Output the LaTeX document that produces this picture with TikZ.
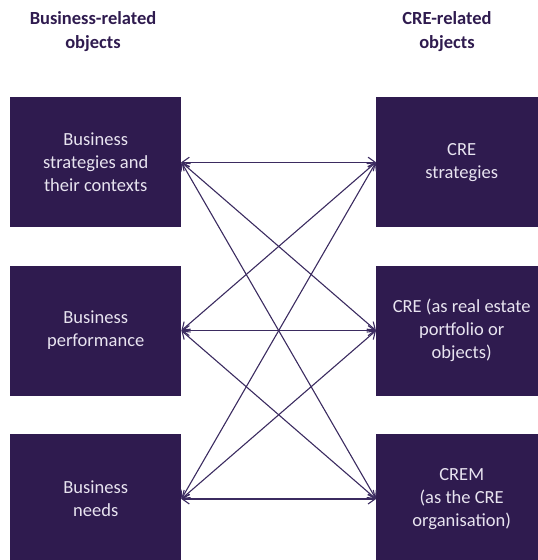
\documentclass[tikz,border=0pt]{standalone}
\usepackage{fontspec}
\setmainfont{Carlito}
\usetikzlibrary{positioning,arrows.meta}

\definecolor{crepurple}{HTML}{2F1B4F}
\definecolor{boxtext}{HTML}{E8E4F0}
\definecolor{linkpurple}{HTML}{3B2B60}

\begin{document}
\begin{tikzpicture}[x=1pt,y=1pt,
  objbox/.style={fill=crepurple,text=boxtext,minimum width=171pt,minimum height=130pt,
    inner sep=0pt,align=center,font=\fontsize{18.5}{23}\selectfont},
  heading/.style={text=crepurple,align=center,font=\bfseries\fontsize{18.5}{24}\selectfont},
  link/.style={draw=linkpurple,line width=1.1pt,
    {Straight Barb[length=7pt,width=10pt]}-{Straight Barb[length=7pt,width=10pt]}}]

\useasboundingbox (0,0) rectangle (538,-560);

% business side
\node[objbox,anchor=north west] (bstrat) at (10,-97) {Business\\strategies and\\their contexts};
\node[objbox,below=38pt of bstrat] (bperf) {Business\\performance};
\node[objbox,below=38pt of bperf] (bneeds) {Business\\needs};

% CRE side
\node[objbox,anchor=north west] (cstrat) at (376,-97) {CRE\\strategies};
\node[objbox,below=38pt of cstrat] (cre) {CRE (as real estate\\portfolio or\\objects)};
\node[objbox,below=38pt of cre] (crem) {CREM\\(as the CRE\\organisation)};

% column titles
\node[heading] (bhead) at (93,-32) {Business-related\\objects};
\node[heading] (chead) at (447,-32) {CRE-related\\objects};

% each business object to each CRE object
\foreach \a in {bstrat,bperf,bneeds}
  \foreach \b in {cstrat,cre,crem}
    \draw[link] (\a.east) -- (\b.west);
\end{tikzpicture}
\end{document}
